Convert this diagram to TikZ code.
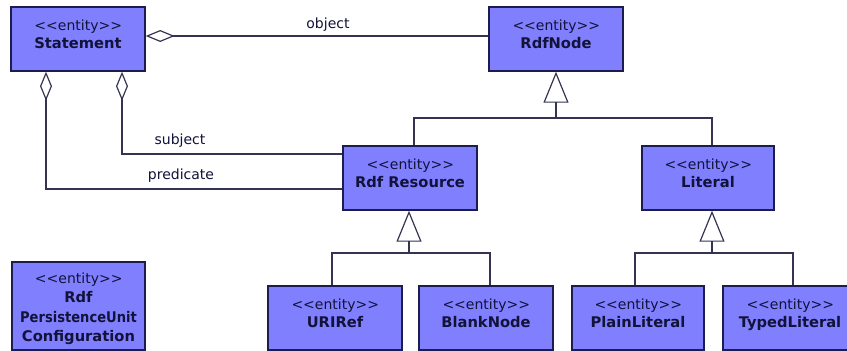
\documentclass[tikz,border=0pt]{standalone}
\usepackage{fontspec}
\setmainfont{DejaVu Sans}
\usetikzlibrary{arrows.meta}
\definecolor{entfill}{RGB}{128,128,255}
\definecolor{entline}{RGB}{28,28,78}
\definecolor{wire}{RGB}{52,52,82}
\definecolor{txt}{RGB}{18,18,58}
% class box: height, width, first-line strut, contents
\newcommand\clsbody[4]{\parbox[c][#1][t]{#2}{\centering\rule{0pt}{#3}#4}}
% stereotype, with the wide spacing of the angle brackets
\newcommand\stereo{\makebox[87pt][s]{<\hfil<\hfil entity\hfil>\hfil>}}
% class name
\newcommand\clsname[1]{{\fontsize{14.7}{18}\selectfont\bfseries #1}}
\tikzset{
  entity/.style={draw=entline, fill=entfill, line width=1.4pt, inner sep=0pt,
    text=txt, font=\fontsize{14}{18}\selectfont},
  conn/.style={draw=wire, line width=1.2pt},
  lbl/.style={text=txt, font=\fontsize{14}{17}\selectfont, inner sep=0pt},
  aggr/.style={conn, {Diamond[open, length=29pt, width=12pt]}-},
  gen/.style={conn, -{Triangle[open, length=31pt, width=25pt]}},
}
\begin{document}
\begin{tikzpicture}[x=1pt, y=-1pt]
\useasboundingbox (0,0) rectangle (847,351);
\clip (0,0) rectangle (847,351);

% classes
\node[entity] (stmt)  at (78,39)    {\clsbody{64pt}{134pt}{23.5pt}{\stereo\\\clsname{Statement}}};
\node[entity] (rnode) at (556,39)   {\clsbody{64pt}{134pt}{23.5pt}{\stereo\\\clsname{RdfNode}}};
\node[entity] (res)   at (410,178)  {\clsbody{64pt}{134pt}{23.5pt}{\stereo\\\clsname{Rdf Resource}}};
\node[entity] (lit)   at (708,178)  {\clsbody{64pt}{132pt}{23.5pt}{\stereo\\\clsname{Literal}}};
\node[entity] (uri)   at (335,318)  {\clsbody{64pt}{134pt}{23.5pt}{\stereo\\\clsname{URIRef}}};
\node[entity] (blank) at (486,318)  {\clsbody{64pt}{134pt}{23.5pt}{\stereo\\\clsname{BlankNode}}};
\node[entity] (plain) at (638,318)  {\clsbody{64pt}{132pt}{23.5pt}{\stereo\\\clsname{PlainLiteral}}};
\node[entity] (typed) at (790,318)  {\clsbody{64pt}{134pt}{23.5pt}{\stereo\\\clsname{TypedLiteral}}};
\node[entity] (pcfg)  at (78.5,306) {\clsbody{88pt}{133pt}{21.5pt}{\fontsize{14}{19.3}\selectfont
  \stereo\\\clsname{Rdf}\\\clsname{\scalebox{0.89}[1]{PersistenceUnit}}\\\clsname{Configuration}}};

% aggregations from Statement
\draw[aggr] ([yshift=3pt]stmt.east) -- ([yshift=3pt]rnode.west);
\draw[aggr] ([xshift=44pt]stmt.south) |- ([yshift=24pt]res.west);
\draw[aggr] ([xshift=-32pt]stmt.south) |- ([yshift=-11pt]res.west);
\node[lbl] (lobj)  at (328,25)  {object};
\node[lbl] (lsubj) at (180,141) {subject};
\node[lbl] (lpred) at (181,176) {predicate};

% generalisation to RdfNode
\coordinate (jtop) at (556,118);
\draw[gen] (jtop) -- (rnode.south);
\draw[conn] ([xshift=4pt]res.north) |- (jtop) -| ([xshift=4pt]lit.north);

% generalisation to Rdf Resource
\coordinate (jres) at (409,253);
\draw[gen] (jres) -- ([xshift=-1pt]res.south);
\draw[conn] ([xshift=-3pt]uri.north) |- (jres) -| ([xshift=4pt]blank.north);

% generalisation to Literal
\coordinate (jlit) at (712,253);
\draw[gen] (jlit) -- ([xshift=4pt]lit.south);
\draw[conn] ([xshift=-3pt]plain.north) |- (jlit) -| ([xshift=3pt]typed.north);
\end{tikzpicture}
\end{document}
